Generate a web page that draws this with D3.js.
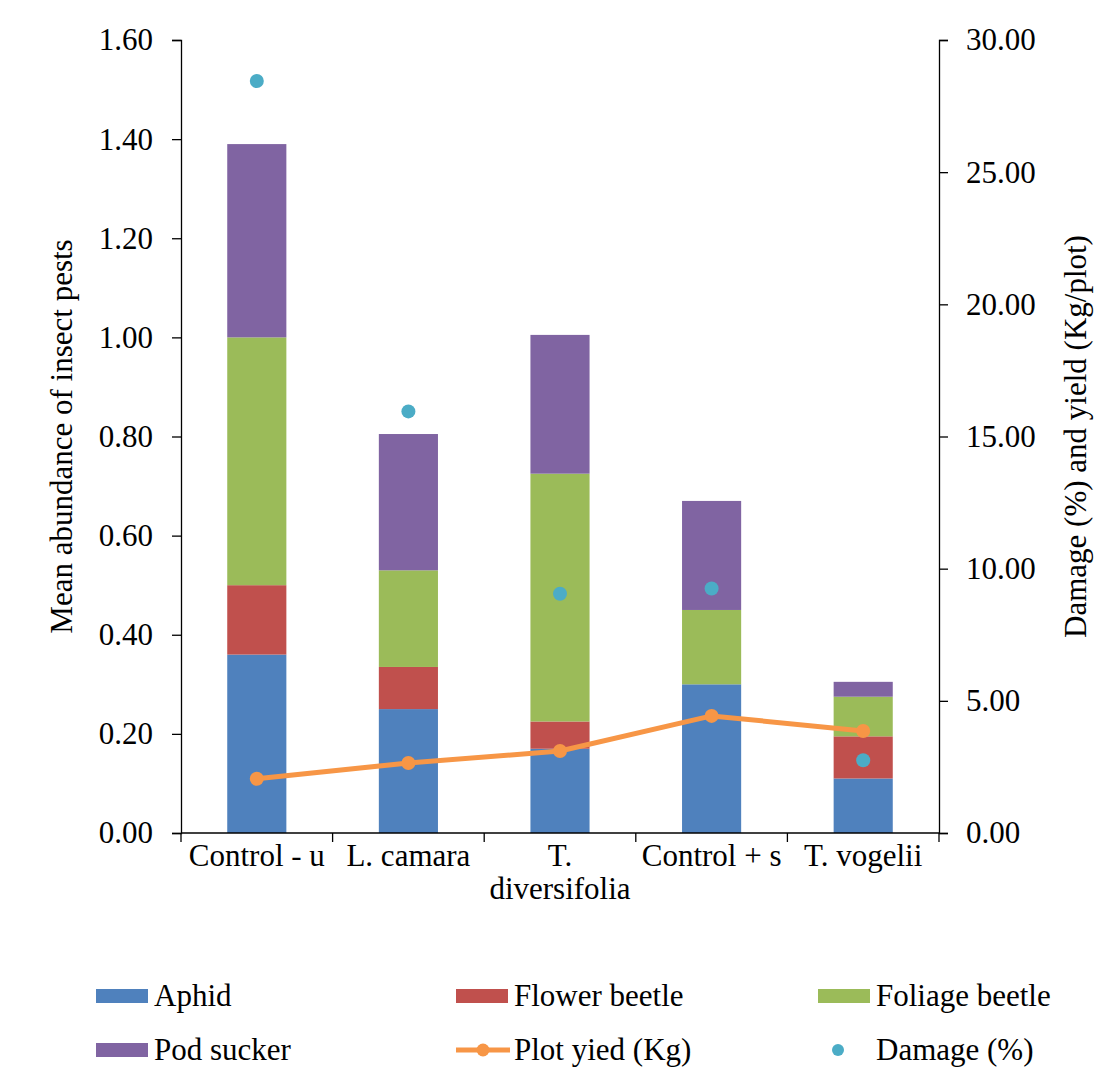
<!DOCTYPE html>
<html><head><meta charset="utf-8">
<script src="https://cdn.jsdelivr.net/npm/d3@7"></script>
<style>body{margin:0;background:#fff}svg{display:block}</style>
</head><body><div id="c"></div>
<script>
const categories = ["Control - u", "L. camara", "T. diversifolia", "Control + s", "T. vogelii"];
const aphid = [0.36, 0.25, 0.17, 0.30, 0.11];
const flowerBeetle = [0.14, 0.085, 0.055, 0.0, 0.085];
const foliageBeetle = [0.50, 0.195, 0.50, 0.15, 0.08];
const podSucker = [0.39, 0.275, 0.28, 0.22, 0.03];
const plotYield = [2.05, 2.65, 3.10, 4.43, 3.86];
const damage = [28.45, 15.95, 9.05, 9.25, 2.75];
const leftTicks = [0, 0.2, 0.4, 0.6, 0.8, 1.0, 1.2, 1.4, 1.6];
const rightTicks = [0, 5, 10, 15, 20, 25, 30];
const seriesNames = ["Aphid", "Flower beetle", "Foliage beetle", "Pod sucker"];
const colors = ["#4F81BD", "#C0504D", "#9BBB59", "#8064A2"];
const yieldColor = "#F79646", damageColor = "#4BACC6";

const FONT = "Liberation Serif";
const W = 1118, H = 1070;
const L = 181, R = 939, T = 40, B = 833;
const svg = d3.select("#c").append("svg").attr("width", W).attr("height", H);

const x = d3.scaleBand().domain(categories).range([L, R]).paddingInner(0.61).paddingOuter(0.305);
const xc = d3.scalePoint().domain(categories).range([L, R]).padding(0.5);
const yL = d3.scaleLinear().domain([0, 1.6]).range([B, T]);
const yR = d3.scaleLinear().domain([0, 30]).range([B, T]);

const rows = categories.map((c, i) => ({cat: c, "Aphid": aphid[i], "Flower beetle": flowerBeetle[i], "Foliage beetle": foliageBeetle[i], "Pod sucker": podSucker[i]}));
const stack = d3.stack().keys(seriesNames)(rows);
svg.append("g").selectAll("g").data(stack).join("g").attr("fill", (d, i) => colors[i])
  .selectAll("rect").data(d => d).join("rect")
  .attr("x", d => x(d.data.cat)).attr("width", x.bandwidth())
  .attr("y", d => yL(d[1])).attr("height", d => yL(d[0]) - yL(d[1]));

// axes
const fs = 31;
const gl = svg.append("g").attr("transform", `translate(${L},0)`)
  .call(d3.axisLeft(yL).tickValues(leftTicks).tickFormat(d3.format(".2f")).tickSizeOuter(0).tickSize(9).tickPadding(19));
const gr = svg.append("g").attr("transform", `translate(${R},0)`)
  .call(d3.axisRight(yR).tickValues(rightTicks).tickFormat(d3.format(".2f")).tickSizeOuter(0).tickSize(9).tickPadding(18));
const boundaries = d3.range(categories.length + 1).map(i => L + i * (R - L) / categories.length);
const gx = svg.append("g");
gx.append("line").attr("x1", L).attr("x2", R).attr("y1", B).attr("y2", B).attr("stroke", "#000").attr("stroke-width", 1.3);
gx.selectAll("line.t").data(boundaries).join("line").attr("class", "t")
  .attr("x1", d => d).attr("x2", d => d).attr("y1", B).attr("y2", B + 9).attr("stroke", "#000").attr("stroke-width", 1.3);
[gl, gr].forEach(g => {
  g.attr("font-family", FONT).attr("font-size", fs);
  g.select(".domain").attr("stroke", "#000").attr("stroke-width", 1.3);
  g.selectAll(".tick line").attr("stroke", "#000").attr("stroke-width", 1.3);
});

const xl = svg.append("g");
categories.forEach(c => {
  const t = xl.append("text").attr("text-anchor", "middle")
    .attr("x", xc(c)).attr("y", 866);
  if (c === "T. diversifolia") {
    t.append("tspan").attr("x", xc(c)).text("T.");
    t.append("tspan").attr("x", xc(c)).attr("dy", 33).text("diversifolia");
  } else t.text(c);
});

// axis titles
svg.append("text").attr("transform", `translate(72,${(T + B) / 2}) rotate(-90)`)
  .attr("text-anchor", "middle").text("Mean abundance of insect pests");
svg.append("text").attr("transform", `translate(1086,${(T + B) / 2}) rotate(-90)`)
  .attr("text-anchor", "middle").text("Damage (%) and yield (Kg/plot)");

// yield line
const line = d3.line().x((d, i) => xc(categories[i])).y(d => yR(d));
svg.append("path").datum(plotYield).attr("d", line).attr("fill", "none").attr("stroke", yieldColor).attr("stroke-width", 5).attr("stroke-linejoin", "round");
svg.append("g").selectAll("circle").data(plotYield).join("circle")
  .attr("cx", (d, i) => xc(categories[i])).attr("cy", d => yR(d)).attr("r", 7).attr("fill", yieldColor);
// damage points
svg.append("g").selectAll("circle").data(damage).join("circle")
  .attr("cx", (d, i) => xc(categories[i])).attr("cy", d => yR(d)).attr("r", 7).attr("fill", damageColor);

// legend
const lg = svg.append("g");
const legendItems = [
  {name: "Aphid", type: "rect", color: colors[0], x: 96, y: 996},
  {name: "Flower beetle", type: "rect", color: colors[1], x: 456, y: 996},
  {name: "Foliage beetle", type: "rect", color: colors[2], x: 818, y: 996},
  {name: "Pod sucker", type: "rect", color: colors[3], x: 96, y: 1050},
  {name: "Plot yied (Kg)", type: "line", color: yieldColor, x: 456, y: 1050},
  {name: "Damage (%)", type: "dot", color: damageColor, x: 818, y: 1050}
];
legendItems.forEach(it => {
  if (it.type === "rect") lg.append("rect").attr("x", it.x).attr("y", it.y - 7).attr("width", 52).attr("height", 14).attr("fill", it.color);
  else if (it.type === "line") {
    lg.append("line").attr("x1", it.x).attr("x2", it.x + 54).attr("y1", it.y).attr("y2", it.y).attr("stroke", it.color).attr("stroke-width", 5);
    lg.append("circle").attr("cx", it.x + 27).attr("cy", it.y).attr("r", 6.5).attr("fill", it.color);
  } else lg.append("circle").attr("cx", it.x + 20).attr("cy", it.y).attr("r", 6).attr("fill", it.color);
  lg.append("text").attr("x", it.x + 58).attr("y", it.y + 10).text(it.name);
});

svg.selectAll("text").style("font-family", FONT).style("font-size", fs + "px").style("fill", "#000");
</script></body></html>
